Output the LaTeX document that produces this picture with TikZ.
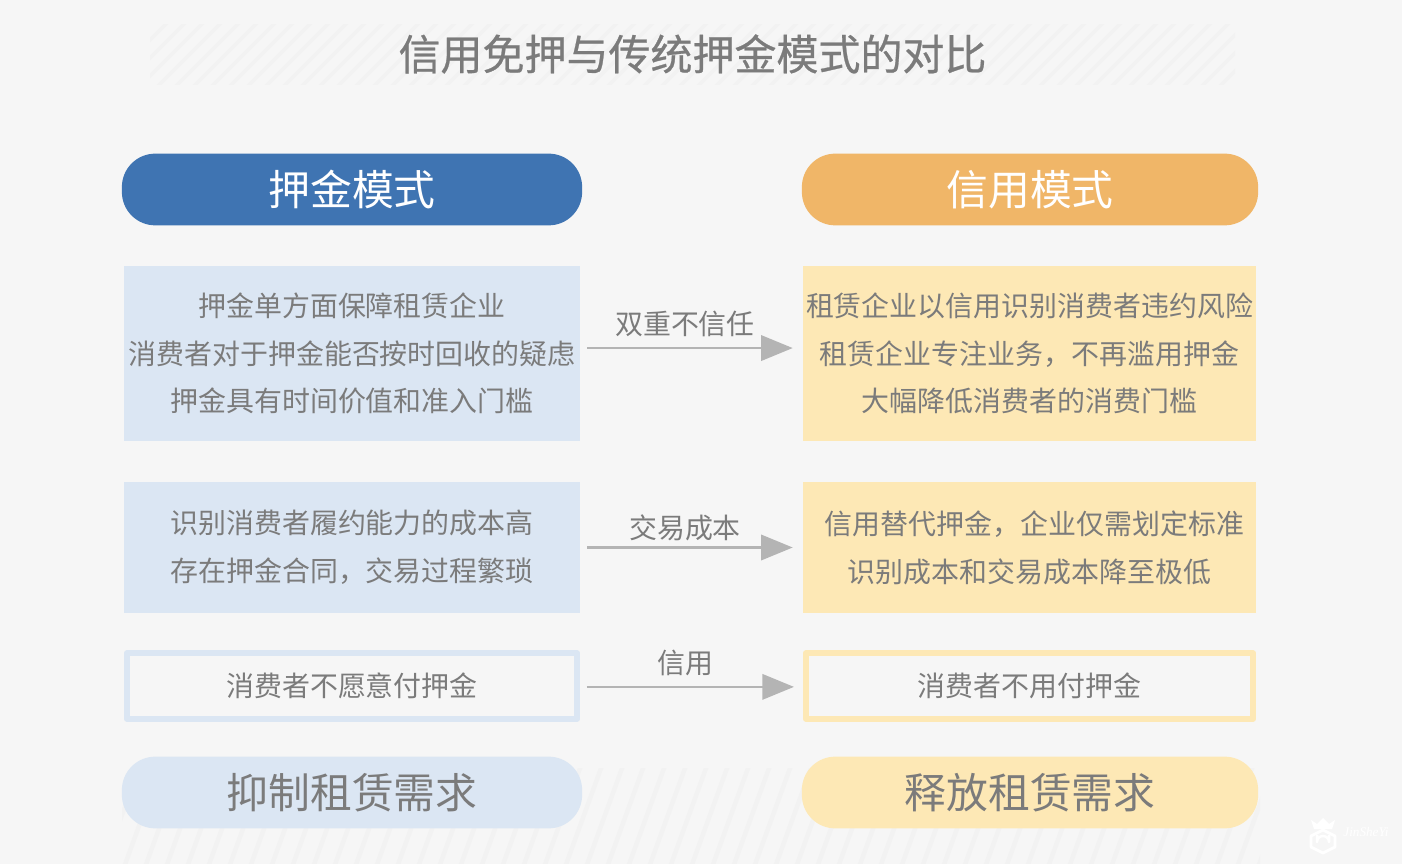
\documentclass[tikz,border=0pt]{standalone}
\usepackage{fontspec}
\setmainfont{Noto Sans CJK SC}[BoldFont={Noto Sans CJK SC}]
\newfontfamily\titlefont[FakeBold=0.6]{Noto Sans CJK SC}
\newfontfamily\markfont{Liberation Serif}
\usepackage{xcolor}
\usetikzlibrary{arrows.meta}
\usetikzlibrary{positioning}
\definecolor{pagegray}{HTML}{F6F6F6}
\definecolor{stripegray}{HTML}{F2F2F2}
\definecolor{textgray}{HTML}{7B7B7B}
\definecolor{arrowgray}{HTML}{B4B4B4}
\definecolor{depositblue}{HTML}{3F74B2}
\definecolor{creditorange}{HTML}{F0B668}
\definecolor{paleblue}{HTML}{DBE6F3}
\definecolor{paleyellow}{HTML}{FDE8B5}
\tikzset{
  headbox/.style={rounded corners=19pt, minimum height=72*0.567pt, inner sep=0pt, font=\fontsize{23.8}{28}\selectfont, text=white},
  infobox/.style={inner sep=0pt, font=\fontsize{15.9}{27.2}\selectfont, text=textgray, align=center},
  framebox/.style={infobox, fill=pagegray, line width=3.2pt, minimum height=66*0.567pt},
  endbox/.style={headbox, text=textgray},
  flowarrow/.style={-{Triangle[length=18pt, width=14.5pt]}, line width=1.2pt, draw=arrowgray, shorten <=3.9pt, shorten >=5.6pt},
  flowlabel/.style={inner sep=0pt, font=\fontsize{15.9}{18}\selectfont, text=textgray}
}
\begin{document}
\begin{tikzpicture}[x=0.02cm, y=-0.02cm, line cap=butt, line join=round]
  \useasboundingbox[fill=pagegray] (0, 0) rectangle (1402, 864);
  %--- Stripes
    \begin{scope}
      \clip (150, 25) rectangle (1235, 85);
      \foreach \i in {0, ..., 64}
        \draw[stripegray, line width=2pt] (100+\i*18, 90) -- ++(70, -70);
    \end{scope}
    \begin{scope}
      \clip (122, 768) rectangle (1260, 864);
      \foreach \i in {0, ..., 58}
        \draw[stripegray, line width=2.5pt] (60+\i*21, 870) -- ++(40, -110);
    \end{scope}
  %--- Title
    \node (title) [inner sep=0pt, font=\titlefont\fontsize{23.9}{28}\selectfont, text=textgray] at (692.5, 54) {信用免押与传统押金模式的对比};
  %--- Deposit column
    \node (deposit) [headbox, fill=depositblue, minimum width=462*0.567pt] at (352, 189.5) {押金模式};
    \node (deposita) [infobox, fill=paleblue, minimum width=458*0.567pt, minimum height=175*0.567pt] at (352, 353.5) {押金单方面保障租赁企业\\消费者对于押金能否按时回收的疑虑\\押金具有时间价值和准入门槛};
    \node (depositb) [infobox, fill=paleblue, minimum width=458*0.567pt, minimum height=131*0.567pt] at (352, 547.5) {识别消费者履约能力的成本高\\存在押金合同，交易过程繁琐};
    \node (depositc) [framebox, draw=paleblue, minimum width=452*0.567pt] at (352, 686) {消费者不愿意付押金};
    \node (depositd) [endbox, fill=paleblue, minimum width=462*0.567pt] at (352, 792.5) {抑制租赁需求};
  %--- Credit column
    \node (credit) [headbox, fill=creditorange, minimum width=458*0.567pt] at (1030, 189.5) {信用模式};
    \node (credita) [infobox, fill=paleyellow, minimum width=455*0.567pt, minimum height=175*0.567pt] at (1029.5, 353.5) {租赁企业以信用识别消费者违约风险\\租赁企业专注业务，不再滥用押金\\大幅降低消费者的消费门槛};
    \node (creditb) [infobox, fill=paleyellow, minimum width=455*0.567pt, minimum height=131*0.567pt] at (1029.5, 547.5) {\hspace*{5.6pt}信用替代押金，企业仅需划定标准\\识别成本和交易成本降至极低};
    \node (creditc) [framebox, draw=paleyellow, minimum width=449*0.567pt] at (1029.5, 686) {消费者不用付押金};
    \node (creditd) [endbox, fill=paleyellow, minimum width=458*0.567pt] at (1030, 792.5) {释放租赁需求};
  %--- Arrows
    \draw[flowarrow] ([yshift=3.1pt]deposita.east) -- ([yshift=3.1pt]credita.west);
    \draw[flowarrow] (depositb) -- (creditb);
    \draw[flowarrow, shorten <=4pt, shorten >=5.2pt] ([yshift=-.5pt]depositc.east) -- ([yshift=-.5pt]creditc.west);
    \node (labela) [flowlabel] at (685, 324) {双重不信任};
    \node (labelb) [flowlabel] at (685, 528) {交易成本};
    \node (labelc) [flowlabel] at (685, 663) {信用};
  %--- Logo
    \fill[white] (1311, 820) -- (1317, 824) -- (1323, 818) -- (1329, 824) -- (1335, 820) -- (1332, 829) -- (1314, 829) -- cycle;
    \draw[white, line width=1.6pt] (1323, 830) -- (1335, 836) -- (1335, 847) -- (1323, 853) -- (1311, 847) -- (1311, 836) -- cycle;
    \draw[white, line width=1.4pt] (1317, 835) -- (1317, 842) arc[start angle=180, end angle=360, radius=6] -- (1329, 835);
    \node (logotext) [inner sep=0pt, font=\markfont\itshape\fontsize{7.5}{8}\selectfont, text=white] at (1366, 832) {JinSheYi};
\end{tikzpicture}
\end{document}
